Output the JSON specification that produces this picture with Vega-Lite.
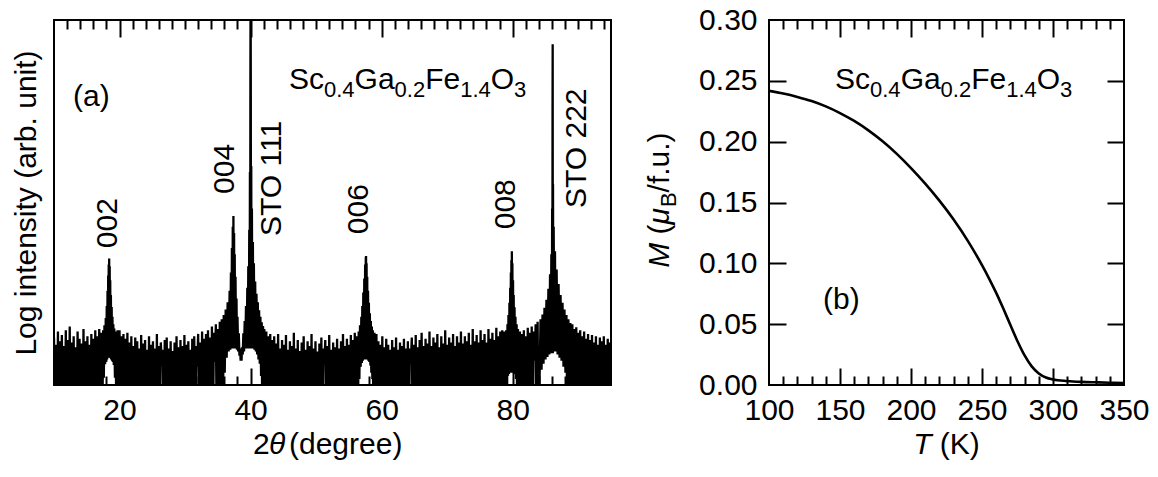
{
  "$schema": "https://vega.github.io/schema/vega-lite/v6.json",
  "background": "white",
  "padding": {"left": 10, "top": 4, "right": 0, "bottom": 0},
  "spacing": 32,
  "config": {
    "font": "Liberation Sans",
    "view": {"stroke": "black", "strokeWidth": 2},
    "axis": {
      "domain": false, "grid": false,
      "labelFont": "Liberation Sans", "labelFontSize": 30, "labelColor": "black",
      "tickColor": "black", "tickWidth": 2,
      "titleFont": "Liberation Sans", "titleFontSize": 30, "titleFontWeight": "normal", "titleColor": "black"
    },
    "text": {"font": "Liberation Sans", "fontSize": 30, "color": "black"}
  },
  "datasets": {
    "xrd": [
      {"tth":10.0,"logI":0.78},{"tth":10.15,"logI":-1},{"tth":10.3,"logI":0.66},{"tth":10.45,"logI":-1},{"tth":10.6,"logI":0.88},{"tth":10.75,"logI":-1},{"tth":10.9,"logI":0.72},{"tth":11.05,"logI":-1},{"tth":11.2,"logI":0.82},{"tth":11.35,"logI":-1},{"tth":11.5,"logI":0.64},{"tth":11.65,"logI":-1},{"tth":11.8,"logI":0.9},{"tth":11.95,"logI":-1},{"tth":12.1,"logI":0.74},{"tth":12.25,"logI":-1},{"tth":12.4,"logI":0.96},{"tth":12.55,"logI":-1},{"tth":12.7,"logI":0.7},{"tth":12.85,"logI":-1},{"tth":13.0,"logI":0.8},{"tth":13.15,"logI":-1},{"tth":13.3,"logI":0.62},{"tth":13.45,"logI":-1},{"tth":13.6,"logI":0.88},{"tth":13.75,"logI":-1},{"tth":13.9,"logI":0.76},{"tth":14.05,"logI":-1},{"tth":14.2,"logI":0.68},{"tth":14.35,"logI":-1},{"tth":14.5,"logI":0.92},{"tth":14.65,"logI":-1},{"tth":14.8,"logI":0.72},{"tth":14.95,"logI":-1},{"tth":15.1,"logI":0.8},{"tth":15.25,"logI":-1},{"tth":15.4,"logI":0.66},{"tth":15.55,"logI":-1},{"tth":15.7,"logI":0.84},{"tth":15.85,"logI":-1},{"tth":16.0,"logI":0.76},{"tth":16.15,"logI":-1},{"tth":16.3,"logI":0.9},{"tth":16.45,"logI":-1},{"tth":16.6,"logI":0.8},{"tth":16.75,"logI":-1},{"tth":16.9,"logI":0.92},
      {"tth":17.05,"logI":-1},{"tth":17.2,"logI":0.86},{"tth":17.35,"logI":-1},{"tth":17.5,"logI":0.9},{"tth":17.6,"logI":0.12},{"tth":17.7,"logI":0.98},{"tth":17.8,"logI":0.34},{"tth":17.9,"logI":1.1},{"tth":17.98,"logI":0.38},{"tth":18.05,"logI":1.3},{"tth":18.11,"logI":0.42},{"tth":18.17,"logI":1.55},{"tth":18.22,"logI":0.45},{"tth":18.27,"logI":1.8},{"tth":18.31,"logI":0.45},{"tth":18.35,"logI":1.98},{"tth":18.39,"logI":0.45},{"tth":18.42,"logI":2.08},{"tth":18.46,"logI":0.45},{"tth":18.5,"logI":1.95},{"tth":18.54,"logI":0.45},{"tth":18.58,"logI":1.72},{"tth":18.63,"logI":0.44},{"tth":18.68,"logI":1.48},{"tth":18.74,"logI":0.42},{"tth":18.8,"logI":1.28},{"tth":18.86,"logI":0.4},{"tth":18.92,"logI":1.12},{"tth":18.98,"logI":0.38},{"tth":19.05,"logI":1.0},{"tth":19.12,"logI":0.33},{"tth":19.2,"logI":0.93},{"tth":19.3,"logI":0.12},{"tth":19.4,"logI":0.88},{"tth":19.55,"logI":-1},{"tth":19.7,"logI":0.9},{"tth":19.85,"logI":-1},
      {"tth":20.0,"logI":0.9},{"tth":20.15,"logI":-1},{"tth":20.3,"logI":0.8},{"tth":20.45,"logI":-1},{"tth":20.6,"logI":0.84},{"tth":20.75,"logI":-1},{"tth":20.9,"logI":0.76},{"tth":21.05,"logI":-1},{"tth":21.2,"logI":0.86},{"tth":21.35,"logI":-1},{"tth":21.5,"logI":0.7},{"tth":21.65,"logI":-1},{"tth":21.8,"logI":0.8},{"tth":21.95,"logI":-1},{"tth":22.1,"logI":0.64},{"tth":22.25,"logI":-1},{"tth":22.4,"logI":0.78},{"tth":22.55,"logI":-1},{"tth":22.7,"logI":0.72},{"tth":22.85,"logI":-1},{"tth":23.0,"logI":0.6},{"tth":23.15,"logI":-1},{"tth":23.3,"logI":0.82},{"tth":23.45,"logI":-1},{"tth":23.6,"logI":0.68},{"tth":23.75,"logI":-1},{"tth":23.9,"logI":0.74},{"tth":24.05,"logI":-1},{"tth":24.2,"logI":0.58},{"tth":24.35,"logI":-1},{"tth":24.5,"logI":0.8},{"tth":24.65,"logI":-1},{"tth":24.8,"logI":0.66},{"tth":24.95,"logI":-1},{"tth":25.1,"logI":0.72},{"tth":25.25,"logI":-1},{"tth":25.4,"logI":0.6},{"tth":25.55,"logI":-1},{"tth":25.7,"logI":0.84},{"tth":25.85,"logI":-1},{"tth":26.0,"logI":0.64},{"tth":26.15,"logI":-1},{"tth":26.3,"logI":0.7},{"tth":26.45,"logI":0.32},{"tth":26.6,"logI":0.58},{"tth":26.75,"logI":-1},{"tth":26.9,"logI":0.74},{"tth":27.05,"logI":-1},{"tth":27.2,"logI":0.78},{"tth":27.35,"logI":-1},{"tth":27.5,"logI":0.6},{"tth":27.65,"logI":-1},{"tth":27.8,"logI":0.72},{"tth":27.95,"logI":-1},{"tth":28.1,"logI":0.56},{"tth":28.25,"logI":-1},{"tth":28.4,"logI":0.7},{"tth":28.55,"logI":-1},{"tth":28.7,"logI":0.8},{"tth":28.85,"logI":-1},{"tth":29.0,"logI":0.62},{"tth":29.15,"logI":-1},{"tth":29.3,"logI":0.74},{"tth":29.45,"logI":-1},{"tth":29.6,"logI":0.64},{"tth":29.75,"logI":-1},{"tth":29.9,"logI":0.82},{"tth":30.05,"logI":-1},{"tth":30.2,"logI":0.66},{"tth":30.35,"logI":-1},{"tth":30.5,"logI":0.72},{"tth":30.65,"logI":-1},{"tth":30.8,"logI":0.58},{"tth":30.95,"logI":-1},{"tth":31.1,"logI":0.76},{"tth":31.25,"logI":-1},{"tth":31.4,"logI":0.8},{"tth":31.55,"logI":-1},{"tth":31.7,"logI":0.64},{"tth":31.85,"logI":0.3},{"tth":32.0,"logI":0.84},{"tth":32.15,"logI":-1},{"tth":32.3,"logI":0.7},{"tth":32.45,"logI":-1},{"tth":32.6,"logI":0.88},{"tth":32.75,"logI":-1},{"tth":32.9,"logI":0.76},{"tth":33.05,"logI":-1},
      {"tth":33.2,"logI":0.84},{"tth":33.35,"logI":-1},{"tth":33.5,"logI":0.9},{"tth":33.65,"logI":-1},{"tth":33.8,"logI":0.78},{"tth":33.95,"logI":-1},{"tth":34.1,"logI":0.96},{"tth":34.25,"logI":-1},{"tth":34.4,"logI":0.86},{"tth":34.55,"logI":0.38},{"tth":34.7,"logI":1.0},{"tth":34.85,"logI":-1},{"tth":35.0,"logI":0.92},{"tth":35.15,"logI":-1},{"tth":35.3,"logI":1.04},{"tth":35.45,"logI":-1},{"tth":35.6,"logI":1.08},{"tth":35.75,"logI":-1},{"tth":35.9,"logI":1.15},{"tth":36.05,"logI":0.2},{"tth":36.2,"logI":1.24},{"tth":36.35,"logI":0.45},{"tth":36.5,"logI":1.36},{"tth":36.65,"logI":0.55},{"tth":36.8,"logI":1.55},{"tth":36.9,"logI":0.58},{"tth":37.0,"logI":1.85},{"tth":37.08,"logI":0.6},{"tth":37.15,"logI":2.25},{"tth":37.22,"logI":0.6},{"tth":37.28,"logI":2.6},{"tth":37.33,"logI":0.6},{"tth":37.38,"logI":2.78},{"tth":37.43,"logI":0.6},{"tth":37.48,"logI":2.5},{"tth":37.53,"logI":0.62},{"tth":37.58,"logI":2.15},{"tth":37.64,"logI":0.62},{"tth":37.7,"logI":1.78},{"tth":37.78,"logI":0.6},{"tth":37.85,"logI":1.42},{"tth":37.92,"logI":0.58},{"tth":38.0,"logI":1.12},{"tth":38.1,"logI":0.55},{"tth":38.2,"logI":0.85},{"tth":38.3,"logI":0.48},{"tth":38.4,"logI":0.6},{"tth":38.48,"logI":0.4},{"tth":38.55,"logI":0.48},{"tth":38.62,"logI":0.4},{"tth":38.7,"logI":0.62},{"tth":38.8,"logI":0.5},{"tth":38.9,"logI":0.85},{"tth":39.0,"logI":0.55},{"tth":39.1,"logI":1.05},{"tth":39.2,"logI":0.6},{"tth":39.3,"logI":1.3},{"tth":39.4,"logI":0.6},{"tth":39.5,"logI":1.6},{"tth":39.58,"logI":0.6},{"tth":39.65,"logI":1.95},{"tth":39.72,"logI":0.6},{"tth":39.8,"logI":2.55},{"tth":39.85,"logI":0.6},{"tth":39.9,"logI":3.5},{"tth":39.94,"logI":0.6},{"tth":39.97,"logI":5.0},{"tth":40.0,"logI":6.6},{"tth":40.03,"logI":5.0},{"tth":40.06,"logI":0.6},{"tth":40.1,"logI":3.6},{"tth":40.15,"logI":0.6},{"tth":40.2,"logI":2.9},{"tth":40.28,"logI":0.6},{"tth":40.35,"logI":2.35},{"tth":40.42,"logI":0.6},{"tth":40.5,"logI":2.0},{"tth":40.6,"logI":0.58},{"tth":40.7,"logI":1.7},{"tth":40.8,"logI":0.55},{"tth":40.9,"logI":1.5},{"tth":41.0,"logI":0.5},{"tth":41.1,"logI":1.36},{"tth":41.2,"logI":0.42},{"tth":41.3,"logI":1.23},{"tth":41.4,"logI":0.35},{"tth":41.5,"logI":1.12},{"tth":41.6,"logI":0.15},{"tth":41.7,"logI":1.03},{"tth":41.8,"logI":-1},{"tth":41.9,"logI":0.97},{"tth":42.0,"logI":-1},{"tth":42.1,"logI":0.92},{"tth":42.25,"logI":-1},{"tth":42.4,"logI":0.88},{"tth":42.55,"logI":-1},{"tth":42.7,"logI":0.8},{"tth":42.85,"logI":-1},{"tth":43.0,"logI":0.84},{"tth":43.15,"logI":-1},{"tth":43.3,"logI":0.74},{"tth":43.45,"logI":-1},
      {"tth":43.6,"logI":0.8},{"tth":43.75,"logI":-1},{"tth":43.9,"logI":0.68},{"tth":44.05,"logI":-1},{"tth":44.2,"logI":0.84},{"tth":44.35,"logI":-1},{"tth":44.5,"logI":0.6},{"tth":44.65,"logI":-1},{"tth":44.8,"logI":0.74},{"tth":44.95,"logI":-1},{"tth":45.1,"logI":0.66},{"tth":45.25,"logI":-1},{"tth":45.4,"logI":0.82},{"tth":45.55,"logI":-1},{"tth":45.7,"logI":0.58},{"tth":45.85,"logI":-1},{"tth":46.0,"logI":0.72},{"tth":46.15,"logI":-1},{"tth":46.3,"logI":0.64},{"tth":46.45,"logI":-1},{"tth":46.6,"logI":0.86},{"tth":46.75,"logI":-1},{"tth":46.9,"logI":0.6},{"tth":47.05,"logI":-1},{"tth":47.2,"logI":0.74},{"tth":47.35,"logI":-1},{"tth":47.5,"logI":0.56},{"tth":47.65,"logI":-1},{"tth":47.8,"logI":0.7},{"tth":47.95,"logI":-1},{"tth":48.1,"logI":0.8},{"tth":48.25,"logI":-1},{"tth":48.4,"logI":0.58},{"tth":48.55,"logI":-1},{"tth":48.7,"logI":0.72},{"tth":48.85,"logI":-1},{"tth":49.0,"logI":0.64},{"tth":49.15,"logI":-1},{"tth":49.3,"logI":0.84},{"tth":49.45,"logI":-1},{"tth":49.6,"logI":0.6},{"tth":49.75,"logI":-1},{"tth":49.9,"logI":0.72},{"tth":50.05,"logI":-1},{"tth":50.2,"logI":0.55},{"tth":50.35,"logI":-1},{"tth":50.5,"logI":0.68},{"tth":50.65,"logI":-1},{"tth":50.8,"logI":0.78},{"tth":50.95,"logI":-1},{"tth":51.1,"logI":0.6},{"tth":51.25,"logI":0.34},{"tth":51.4,"logI":0.74},{"tth":51.55,"logI":-1},{"tth":51.7,"logI":0.64},{"tth":51.85,"logI":-1},{"tth":52.0,"logI":0.82},{"tth":52.15,"logI":-1},{"tth":52.3,"logI":0.58},{"tth":52.45,"logI":-1},{"tth":52.6,"logI":0.7},{"tth":52.75,"logI":-1},{"tth":52.9,"logI":0.62},{"tth":53.05,"logI":-1},{"tth":53.2,"logI":0.76},{"tth":53.35,"logI":-1},{"tth":53.5,"logI":0.6},{"tth":53.65,"logI":-1},{"tth":53.8,"logI":0.72},{"tth":53.95,"logI":-1},{"tth":54.1,"logI":0.84},{"tth":54.25,"logI":-1},{"tth":54.4,"logI":0.64},{"tth":54.55,"logI":-1},{"tth":54.7,"logI":0.76},{"tth":54.85,"logI":-1},{"tth":55.0,"logI":0.66},{"tth":55.15,"logI":-1},{"tth":55.3,"logI":0.82},{"tth":55.45,"logI":-1},{"tth":55.6,"logI":0.74},{"tth":55.75,"logI":-1},{"tth":55.9,"logI":0.86},{"tth":56.05,"logI":-1},
      {"tth":56.2,"logI":0.8},{"tth":56.35,"logI":-1},{"tth":56.5,"logI":0.88},{"tth":56.6,"logI":0.1},{"tth":56.7,"logI":0.98},{"tth":56.8,"logI":0.3},{"tth":56.9,"logI":1.12},{"tth":56.98,"logI":0.36},{"tth":57.05,"logI":1.3},{"tth":57.12,"logI":0.4},{"tth":57.2,"logI":1.52},{"tth":57.28,"logI":0.42},{"tth":57.35,"logI":1.75},{"tth":57.42,"logI":0.42},{"tth":57.48,"logI":1.98},{"tth":57.53,"logI":0.42},{"tth":57.58,"logI":2.1},{"tth":57.6,"logI":0.42},{"tth":57.62,"logI":2.12},{"tth":57.66,"logI":0.42},{"tth":57.7,"logI":2.0},{"tth":57.75,"logI":0.42},{"tth":57.8,"logI":1.78},{"tth":57.86,"logI":0.42},{"tth":57.92,"logI":1.55},{"tth":57.98,"logI":0.4},{"tth":58.05,"logI":1.35},{"tth":58.12,"logI":0.38},{"tth":58.2,"logI":1.18},{"tth":58.28,"logI":0.32},{"tth":58.35,"logI":1.05},{"tth":58.42,"logI":0.2},{"tth":58.5,"logI":0.96},{"tth":58.58,"logI":0.1},{"tth":58.65,"logI":0.9},{"tth":58.75,"logI":-1},{"tth":58.9,"logI":0.86},{"tth":59.05,"logI":-1},
      {"tth":59.2,"logI":0.84},{"tth":59.35,"logI":-1},{"tth":59.5,"logI":0.72},{"tth":59.65,"logI":-1},{"tth":59.8,"logI":0.66},{"tth":59.95,"logI":-1},{"tth":60.1,"logI":0.8},{"tth":60.25,"logI":-1},{"tth":60.4,"logI":0.62},{"tth":60.55,"logI":-1},{"tth":60.7,"logI":0.76},{"tth":60.85,"logI":-1},{"tth":61.0,"logI":0.66},{"tth":61.15,"logI":-1},{"tth":61.3,"logI":0.58},{"tth":61.45,"logI":-1},{"tth":61.6,"logI":0.74},{"tth":61.75,"logI":-1},{"tth":61.9,"logI":0.62},{"tth":62.05,"logI":-1},{"tth":62.2,"logI":0.78},{"tth":62.35,"logI":-1},{"tth":62.5,"logI":0.58},{"tth":62.65,"logI":-1},{"tth":62.8,"logI":0.7},{"tth":62.95,"logI":-1},{"tth":63.1,"logI":0.64},{"tth":63.25,"logI":-1},{"tth":63.4,"logI":0.76},{"tth":63.55,"logI":-1},{"tth":63.7,"logI":0.6},{"tth":63.85,"logI":-1},{"tth":64.0,"logI":0.72},{"tth":64.15,"logI":-1},{"tth":64.3,"logI":0.6},{"tth":64.45,"logI":0.35},{"tth":64.6,"logI":0.78},{"tth":64.75,"logI":-1},{"tth":64.9,"logI":0.66},{"tth":65.05,"logI":-1},{"tth":65.2,"logI":0.82},{"tth":65.35,"logI":-1},{"tth":65.5,"logI":0.62},{"tth":65.65,"logI":-1},{"tth":65.8,"logI":0.74},{"tth":65.95,"logI":-1},{"tth":66.1,"logI":0.86},{"tth":66.25,"logI":-1},{"tth":66.4,"logI":0.64},{"tth":66.55,"logI":-1},{"tth":66.7,"logI":0.76},{"tth":66.85,"logI":-1},{"tth":67.0,"logI":0.68},{"tth":67.15,"logI":-1},{"tth":67.3,"logI":0.88},{"tth":67.45,"logI":-1},{"tth":67.6,"logI":0.64},{"tth":67.75,"logI":-1},{"tth":67.9,"logI":0.78},{"tth":68.05,"logI":-1},{"tth":68.2,"logI":0.7},{"tth":68.35,"logI":-1},{"tth":68.5,"logI":0.84},{"tth":68.65,"logI":-1},{"tth":68.8,"logI":0.62},{"tth":68.95,"logI":-1},{"tth":69.1,"logI":0.8},{"tth":69.25,"logI":-1},{"tth":69.4,"logI":0.68},{"tth":69.55,"logI":-1},{"tth":69.7,"logI":0.9},{"tth":69.85,"logI":-1},{"tth":70.0,"logI":0.66},{"tth":70.15,"logI":-1},{"tth":70.3,"logI":0.78},{"tth":70.45,"logI":-1},{"tth":70.6,"logI":0.7},{"tth":70.75,"logI":-1},{"tth":70.9,"logI":0.84},{"tth":71.05,"logI":-1},{"tth":71.2,"logI":0.64},{"tth":71.35,"logI":-1},{"tth":71.5,"logI":0.8},{"tth":71.65,"logI":-1},{"tth":71.8,"logI":0.7},{"tth":71.95,"logI":-1},{"tth":72.1,"logI":0.88},{"tth":72.25,"logI":-1},{"tth":72.4,"logI":0.68},{"tth":72.55,"logI":-1},{"tth":72.7,"logI":0.8},{"tth":72.85,"logI":-1},{"tth":73.0,"logI":0.72},{"tth":73.15,"logI":-1},{"tth":73.3,"logI":0.86},{"tth":73.45,"logI":-1},{"tth":73.6,"logI":0.66},{"tth":73.75,"logI":-1},{"tth":73.9,"logI":0.92},{"tth":74.05,"logI":-1},{"tth":74.2,"logI":0.72},{"tth":74.35,"logI":-1},{"tth":74.5,"logI":0.82},{"tth":74.65,"logI":-1},{"tth":74.8,"logI":0.7},{"tth":74.95,"logI":-1},{"tth":75.1,"logI":0.9},{"tth":75.25,"logI":-1},{"tth":75.4,"logI":0.74},{"tth":75.55,"logI":-1},{"tth":75.7,"logI":0.84},{"tth":75.85,"logI":-1},{"tth":76.0,"logI":0.7},{"tth":76.15,"logI":-1},{"tth":76.3,"logI":0.92},{"tth":76.45,"logI":-1},{"tth":76.6,"logI":0.76},{"tth":76.75,"logI":-1},{"tth":76.9,"logI":0.86},{"tth":77.05,"logI":-1},{"tth":77.2,"logI":0.74},{"tth":77.35,"logI":-1},{"tth":77.5,"logI":0.94},{"tth":77.65,"logI":-1},{"tth":77.8,"logI":0.8},{"tth":77.95,"logI":-1},{"tth":78.1,"logI":0.88},{"tth":78.25,"logI":-1},{"tth":78.4,"logI":0.9},{"tth":78.55,"logI":-1},
      {"tth":78.7,"logI":0.88},{"tth":78.85,"logI":-1},{"tth":79.0,"logI":0.9},{"tth":79.1,"logI":-1},{"tth":79.2,"logI":1.0},{"tth":79.28,"logI":0.15},{"tth":79.35,"logI":1.15},{"tth":79.43,"logI":0.18},{"tth":79.5,"logI":1.35},{"tth":79.56,"logI":0.2},{"tth":79.62,"logI":1.6},{"tth":79.67,"logI":0.2},{"tth":79.72,"logI":1.85},{"tth":79.76,"logI":0.2},{"tth":79.8,"logI":2.05},{"tth":79.84,"logI":0.2},{"tth":79.87,"logI":2.2},{"tth":79.91,"logI":0.2},{"tth":79.95,"logI":2.0},{"tth":80.0,"logI":0.2},{"tth":80.05,"logI":1.72},{"tth":80.1,"logI":0.2},{"tth":80.15,"logI":1.48},{"tth":80.22,"logI":0.2},{"tth":80.28,"logI":1.28},{"tth":80.35,"logI":0.18},{"tth":80.42,"logI":1.12},{"tth":80.5,"logI":0.1},{"tth":80.6,"logI":1.0},{"tth":80.7,"logI":-1},{"tth":80.8,"logI":0.92},{"tth":80.95,"logI":-1},
      {"tth":81.1,"logI":0.88},{"tth":81.25,"logI":-1},{"tth":81.4,"logI":0.84},{"tth":81.55,"logI":-1},{"tth":81.7,"logI":0.9},{"tth":81.85,"logI":-1},{"tth":82.0,"logI":0.8},{"tth":82.15,"logI":-1},{"tth":82.3,"logI":0.94},{"tth":82.45,"logI":-1},{"tth":82.6,"logI":0.86},{"tth":82.75,"logI":-1},{"tth":82.9,"logI":0.96},{"tth":83.05,"logI":-1},{"tth":83.2,"logI":0.88},{"tth":83.35,"logI":0.4},{"tth":83.5,"logI":1.0},{"tth":83.65,"logI":-1},{"tth":83.8,"logI":1.04},{"tth":83.95,"logI":-1},
      {"tth":84.1,"logI":0.1},{"tth":84.25,"logI":1.08},{"tth":84.4,"logI":0.25},{"tth":84.55,"logI":1.16},{"tth":84.7,"logI":0.35},{"tth":84.85,"logI":1.27},{"tth":85.0,"logI":0.42},{"tth":85.15,"logI":1.4},{"tth":85.3,"logI":0.46},{"tth":85.45,"logI":1.58},{"tth":85.58,"logI":0.5},{"tth":85.7,"logI":1.82},{"tth":85.8,"logI":0.52},{"tth":85.9,"logI":2.15},{"tth":85.97,"logI":0.52},{"tth":86.02,"logI":2.9},{"tth":86.05,"logI":0.52},{"tth":86.08,"logI":4.5},{"tth":86.1,"logI":5.6},{"tth":86.12,"logI":0.52},{"tth":86.15,"logI":3.3},{"tth":86.2,"logI":0.55},{"tth":86.25,"logI":2.6},{"tth":86.35,"logI":0.55},{"tth":86.45,"logI":2.2},{"tth":86.55,"logI":0.55},{"tth":86.7,"logI":1.9},{"tth":86.85,"logI":0.5},{"tth":87.0,"logI":1.66},{"tth":87.15,"logI":0.45},{"tth":87.3,"logI":1.48},{"tth":87.45,"logI":0.4},{"tth":87.6,"logI":1.35},{"tth":87.75,"logI":0.3},{"tth":87.9,"logI":1.24},{"tth":88.05,"logI":0.2},{"tth":88.2,"logI":1.15},{"tth":88.35,"logI":-1},{"tth":88.5,"logI":1.08},{"tth":88.65,"logI":-1},{"tth":88.8,"logI":1.02},{"tth":88.95,"logI":-1},
      {"tth":89.1,"logI":1.0},{"tth":89.25,"logI":-1},{"tth":89.4,"logI":0.92},{"tth":89.55,"logI":-1},{"tth":89.7,"logI":0.95},{"tth":89.85,"logI":-1},{"tth":90.0,"logI":0.86},{"tth":90.15,"logI":-1},{"tth":90.3,"logI":0.9},{"tth":90.45,"logI":-1},{"tth":90.6,"logI":0.8},{"tth":90.75,"logI":-1},{"tth":90.9,"logI":0.88},{"tth":91.05,"logI":-1},{"tth":91.2,"logI":0.76},{"tth":91.35,"logI":-1},{"tth":91.5,"logI":0.84},{"tth":91.65,"logI":-1},{"tth":91.8,"logI":0.74},{"tth":91.95,"logI":-1},{"tth":92.1,"logI":0.82},{"tth":92.25,"logI":-1},{"tth":92.4,"logI":0.7},{"tth":92.55,"logI":-1},{"tth":92.7,"logI":0.8},{"tth":92.85,"logI":-1},{"tth":93.0,"logI":0.66},{"tth":93.15,"logI":-1},{"tth":93.3,"logI":0.78},{"tth":93.45,"logI":-1},{"tth":93.6,"logI":0.72},{"tth":93.75,"logI":-1},{"tth":93.9,"logI":0.8},{"tth":94.05,"logI":-1},{"tth":94.2,"logI":0.66},{"tth":94.35,"logI":-1},{"tth":94.5,"logI":0.76},{"tth":94.65,"logI":-1},{"tth":94.8,"logI":0.7},{"tth":94.95,"logI":-1}
    ],
    "peakLabels": [
      {"label":"002","tth":19.61,"logI":2.25},
      {"label":"004","tth":37.47,"logI":3.14},
      {"label":"STO 111","tth":44.64,"logI":2.45},
      {"label":"006","tth":57.92,"logI":2.48},
      {"label":"008","tth":80.35,"logI":2.56},
      {"label":"STO 222","tth":91.19,"logI":2.91}
    ],
    "formulaA": [
      {"part":"Sc","sub":false,"tth":45.86,"logI":4.866},
      {"part":"0.4","sub":true,"tth":51.2,"logI":4.866},
      {"part":"Ga","sub":false,"tth":55.87,"logI":4.866},
      {"part":"0.2","sub":true,"tth":61.98,"logI":4.866},
      {"part":"Fe","sub":false,"tth":66.65,"logI":4.866},
      {"part":"1.4","sub":true,"tth":71.99,"logI":4.866},
      {"part":"O","sub":false,"tth":76.66,"logI":4.866},
      {"part":"3","sub":true,"tth":80.21,"logI":4.866}
    ],
    "textA": [
      {"part":"(a)","italic":false,"tth":12.9,"logI":4.59},
      {"part":"2","italic":false,"tth":40.37,"logI":-1.134},
      {"part":"θ","italic":true,"tth":42.81,"logI":-1.134},
      {"part":"(degree)","italic":false,"tth":45.86,"logI":-1.134}
    ],
    "mt": [
      {"T":100,"M":0.2418},{"T":110,"M":0.2396},{"T":120,"M":0.2368},{"T":130,"M":0.2334},{"T":140,"M":0.229},{"T":150,"M":0.2235},{"T":160,"M":0.217},{"T":170,"M":0.2093},{"T":180,"M":0.2003},{"T":190,"M":0.19},{"T":200,"M":0.1783},{"T":210,"M":0.1655},{"T":220,"M":0.1515},{"T":230,"M":0.136},{"T":240,"M":0.1185},{"T":250,"M":0.0985},{"T":255,"M":0.0875},{"T":260,"M":0.0757},{"T":265,"M":0.0628},{"T":270,"M":0.0493},{"T":275,"M":0.036},{"T":280,"M":0.0243},{"T":285,"M":0.0153},{"T":290,"M":0.0095},{"T":295,"M":0.0062},{"T":300,"M":0.0046},{"T":310,"M":0.0033},{"T":320,"M":0.0026},{"T":330,"M":0.0022},{"T":340,"M":0.0019},{"T":350,"M":0.0017}
    ],
    "formulaB": [
      {"part":"Sc","sub":false,"T":146.5,"M":0.2433},
      {"part":"0.4","sub":true,"T":171.1,"M":0.2433},
      {"part":"Ga","sub":false,"T":192.7,"M":0.2433},
      {"part":"0.2","sub":true,"T":220.8,"M":0.2433},
      {"part":"Fe","sub":false,"T":242.4,"M":0.2433},
      {"part":"1.4","sub":true,"T":267.0,"M":0.2433},
      {"part":"O","sub":false,"T":288.6,"M":0.2433},
      {"part":"3","sub":true,"T":305.0,"M":0.2433}
    ],
    "textB": [
      {"part":"(b)","italic":false,"T":138.0,"M":0.0627},
      {"part":"T","italic":true,"T":201.5,"M":-0.0567},
      {"part":"(K)","italic":false,"T":220.3,"M":-0.0567}
    ],
    "titleB": [
      {"part":"M","style":"italic","T":29.6,"M":0.0964},
      {"part":"(","style":"upright","T":29.6,"M":0.1238},
      {"part":"μ","style":"italic","T":29.6,"M":0.132},
      {"part":"B","style":"sub","T":29.6,"M":0.1462},
      {"part":"/f.u.)","style":"upright","T":29.6,"M":0.1583}
    ]
  },
  "hconcat": [
    {
      "width": 557,
      "height": 365,
      "resolve": {"axis": {"x": "independent", "y": "independent"}},
      "layer": [
        {
          "data": {"name": "xrd"},
          "mark": {"type": "line", "color": "black", "strokeWidth": 2.3, "strokeJoin": "bevel", "clip": true},
          "encoding": {
            "x": {"field": "tth", "type": "quantitative", "scale": {"domain": [10, 95], "nice": false, "zero": false},
                  "axis": {"orient": "bottom", "values": [20, 40, 60, 80], "format": "d", "ticks": false, "labelPadding": 10, "labelFlush": false, "labelOverlap": false, "title": null}},
            "y": {"field": "logI", "type": "quantitative", "scale": {"domain": [0, 6], "nice": false, "zero": false},
                  "axis": {"orient": "left", "labels": false, "ticks": false, "title": "Log intensity (arb. unit)", "titlePadding": 13}}
          }
        },
        {
          "data": {"name": "peakLabels"},
          "mark": {"type": "text", "angle": 270, "align": "left", "baseline": "alphabetic", "fontSize": 30},
          "encoding": {
            "x": {"field": "tth", "type": "quantitative", "scale": {"domain": [10, 95], "nice": false, "zero": false},
                  "axis": {"orient": "top", "values": [20, 40, 60, 80], "labels": false, "tickSize": 17, "offset": -17, "title": null}},
            "y": {"field": "logI", "type": "quantitative", "scale": {"domain": [0, 6], "nice": false, "zero": false}, "axis": null},
            "text": {"field": "label"}
          }
        },
        {
          "data": {"name": "formulaA"},
          "transform": [{"filter": "!datum.sub"}],
          "mark": {"type": "text", "align": "left", "baseline": "alphabetic", "fontSize": 30},
          "encoding": {
            "x": {"field": "tth", "type": "quantitative", "scale": {"domain": [10, 95], "nice": false, "zero": false},
                  "axis": {"orient": "top", "values": [12,14,16,18,22,24,26,28,30,32,34,36,38,42,44,46,48,50,52,54,56,58,62,64,66,68,70,72,74,76,78,82,84,86,88,90,92,94], "labels": false, "tickSize": 9, "offset": -9, "title": null}},
            "y": {"field": "logI", "type": "quantitative", "scale": {"domain": [0, 6], "nice": false, "zero": false}, "axis": null},
            "text": {"field": "part"}
          }
        },
        {
          "data": {"name": "formulaA"},
          "transform": [{"filter": "datum.sub"}],
          "mark": {"type": "text", "align": "left", "baseline": "alphabetic", "fontSize": 22, "dy": 8},
          "encoding": {
            "x": {"field": "tth", "type": "quantitative", "scale": {"domain": [10, 95], "nice": false, "zero": false},
                  "axis": {"orient": "bottom", "values": [20, 40, 60, 80], "labels": false, "tickSize": 17, "offset": -17, "title": null}},
            "y": {"field": "logI", "type": "quantitative", "scale": {"domain": [0, 6], "nice": false, "zero": false}, "axis": null},
            "text": {"field": "part"}
          }
        },
        {
          "data": {"name": "textA"},
          "transform": [{"filter": "!datum.italic"}],
          "mark": {"type": "text", "align": "left", "baseline": "alphabetic", "fontSize": 30},
          "encoding": {
            "x": {"field": "tth", "type": "quantitative", "scale": {"domain": [10, 95], "nice": false, "zero": false},
                  "axis": {"orient": "bottom", "values": [12,14,16,18,22,24,26,28,30,32,34,36,38,42,44,46,48,50,52,54,56,58,62,64,66,68,70,72,74,76,78,82,84,86,88,90,92,94], "labels": false, "tickSize": 9, "offset": -9, "title": null}},
            "y": {"field": "logI", "type": "quantitative", "scale": {"domain": [0, 6], "nice": false, "zero": false}, "axis": null},
            "text": {"field": "part"}
          }
        },
        {
          "data": {"name": "textA"},
          "transform": [{"filter": "datum.italic"}],
          "mark": {"type": "text", "align": "left", "baseline": "alphabetic", "fontSize": 30, "fontStyle": "italic"},
          "encoding": {
            "x": {"field": "tth", "type": "quantitative", "scale": {"domain": [10, 95], "nice": false, "zero": false}, "axis": null},
            "y": {"field": "logI", "type": "quantitative", "scale": {"domain": [0, 6], "nice": false, "zero": false}, "axis": null},
            "text": {"field": "part"}
          }
        }
      ]
    },
    {
      "width": 355,
      "height": 365,
      "resolve": {"axis": {"x": "independent", "y": "independent"}},
      "layer": [
        {
          "data": {"name": "mt"},
          "mark": {"type": "line", "color": "black", "strokeWidth": 2.6, "interpolate": "monotone", "clip": true},
          "encoding": {
            "x": {"field": "T", "type": "quantitative", "scale": {"domain": [100, 350], "nice": false, "zero": false},
                  "axis": {"orient": "bottom", "values": [100, 150, 200, 250, 300, 350], "format": "d", "ticks": false, "labelPadding": 10, "labelFlush": false, "labelOverlap": false, "title": null}},
            "y": {"field": "M", "type": "quantitative", "scale": {"domain": [0, 0.3], "nice": false, "zero": false},
                  "axis": {"orient": "left", "values": [0, 0.05, 0.1, 0.15, 0.2, 0.25, 0.3], "format": ".2f", "ticks": false, "labelPadding": 12, "labelOverlap": false, "title": null}}
          }
        },
        {
          "data": {"name": "formulaB"},
          "transform": [{"filter": "!datum.sub"}],
          "mark": {"type": "text", "align": "left", "baseline": "alphabetic", "fontSize": 30},
          "encoding": {
            "x": {"field": "T", "type": "quantitative", "scale": {"domain": [100, 350], "nice": false, "zero": false},
                  "axis": {"orient": "bottom", "values": [150, 200, 250, 300], "labels": false, "tickSize": 17, "offset": -17, "title": null}},
            "y": {"field": "M", "type": "quantitative", "scale": {"domain": [0, 0.3], "nice": false, "zero": false},
                  "axis": {"orient": "left", "values": [0.05, 0.1, 0.15, 0.2, 0.25], "labels": false, "tickSize": 17, "offset": -17, "title": null}},
            "text": {"field": "part"}
          }
        },
        {
          "data": {"name": "formulaB"},
          "transform": [{"filter": "datum.sub"}],
          "mark": {"type": "text", "align": "left", "baseline": "alphabetic", "fontSize": 22, "dy": 8},
          "encoding": {
            "x": {"field": "T", "type": "quantitative", "scale": {"domain": [100, 350], "nice": false, "zero": false},
                  "axis": {"orient": "bottom", "values": [110,120,130,140,160,170,180,190,210,220,230,240,260,270,280,290,310,320,330,340], "labels": false, "tickSize": 9, "offset": -9, "title": null}},
            "y": {"field": "M", "type": "quantitative", "scale": {"domain": [0, 0.3], "nice": false, "zero": false},
                  "axis": {"orient": "right", "values": [0.05, 0.1, 0.15, 0.2, 0.25], "labels": false, "tickSize": 17, "offset": -17, "title": null}},
            "text": {"field": "part"}
          }
        },
        {
          "data": {"name": "textB"},
          "transform": [{"filter": "!datum.italic"}],
          "mark": {"type": "text", "align": "left", "baseline": "alphabetic", "fontSize": 30},
          "encoding": {
            "x": {"field": "T", "type": "quantitative", "scale": {"domain": [100, 350], "nice": false, "zero": false},
                  "axis": {"orient": "top", "values": [150, 200, 250, 300], "labels": false, "tickSize": 17, "offset": -17, "title": null}},
            "y": {"field": "M", "type": "quantitative", "scale": {"domain": [0, 0.3], "nice": false, "zero": false}, "axis": null},
            "text": {"field": "part"}
          }
        },
        {
          "data": {"name": "textB"},
          "transform": [{"filter": "datum.italic"}],
          "mark": {"type": "text", "align": "left", "baseline": "alphabetic", "fontSize": 30, "fontStyle": "italic"},
          "encoding": {
            "x": {"field": "T", "type": "quantitative", "scale": {"domain": [100, 350], "nice": false, "zero": false},
                  "axis": {"orient": "top", "values": [110,120,130,140,160,170,180,190,210,220,230,240,260,270,280,290,310,320,330,340], "labels": false, "tickSize": 9, "offset": -9, "title": null}},
            "y": {"field": "M", "type": "quantitative", "scale": {"domain": [0, 0.3], "nice": false, "zero": false}, "axis": null},
            "text": {"field": "part"}
          }
        },
        {
          "data": {"name": "titleB"},
          "transform": [{"filter": "datum.style === 'upright'"}],
          "mark": {"type": "text", "angle": 270, "align": "left", "baseline": "alphabetic", "fontSize": 30},
          "encoding": {
            "x": {"field": "T", "type": "quantitative", "scale": {"domain": [100, 350], "nice": false, "zero": false}, "axis": null},
            "y": {"field": "M", "type": "quantitative", "scale": {"domain": [0, 0.3], "nice": false, "zero": false}, "axis": null},
            "text": {"field": "part"}
          }
        },
        {
          "data": {"name": "titleB"},
          "transform": [{"filter": "datum.style === 'italic'"}],
          "mark": {"type": "text", "angle": 270, "align": "left", "baseline": "alphabetic", "fontSize": 30, "fontStyle": "italic"},
          "encoding": {
            "x": {"field": "T", "type": "quantitative", "scale": {"domain": [100, 350], "nice": false, "zero": false}, "axis": null},
            "y": {"field": "M", "type": "quantitative", "scale": {"domain": [0, 0.3], "nice": false, "zero": false}, "axis": null},
            "text": {"field": "part"}
          }
        },
        {
          "data": {"name": "titleB"},
          "transform": [{"filter": "datum.style === 'sub'"}],
          "mark": {"type": "text", "angle": 270, "align": "left", "baseline": "alphabetic", "fontSize": 22, "dy": 7},
          "encoding": {
            "x": {"field": "T", "type": "quantitative", "scale": {"domain": [100, 350], "nice": false, "zero": false}, "axis": null},
            "y": {"field": "M", "type": "quantitative", "scale": {"domain": [0, 0.3], "nice": false, "zero": false}, "axis": null},
            "text": {"field": "part"}
          }
        }
      ]
    }
  ]
}
